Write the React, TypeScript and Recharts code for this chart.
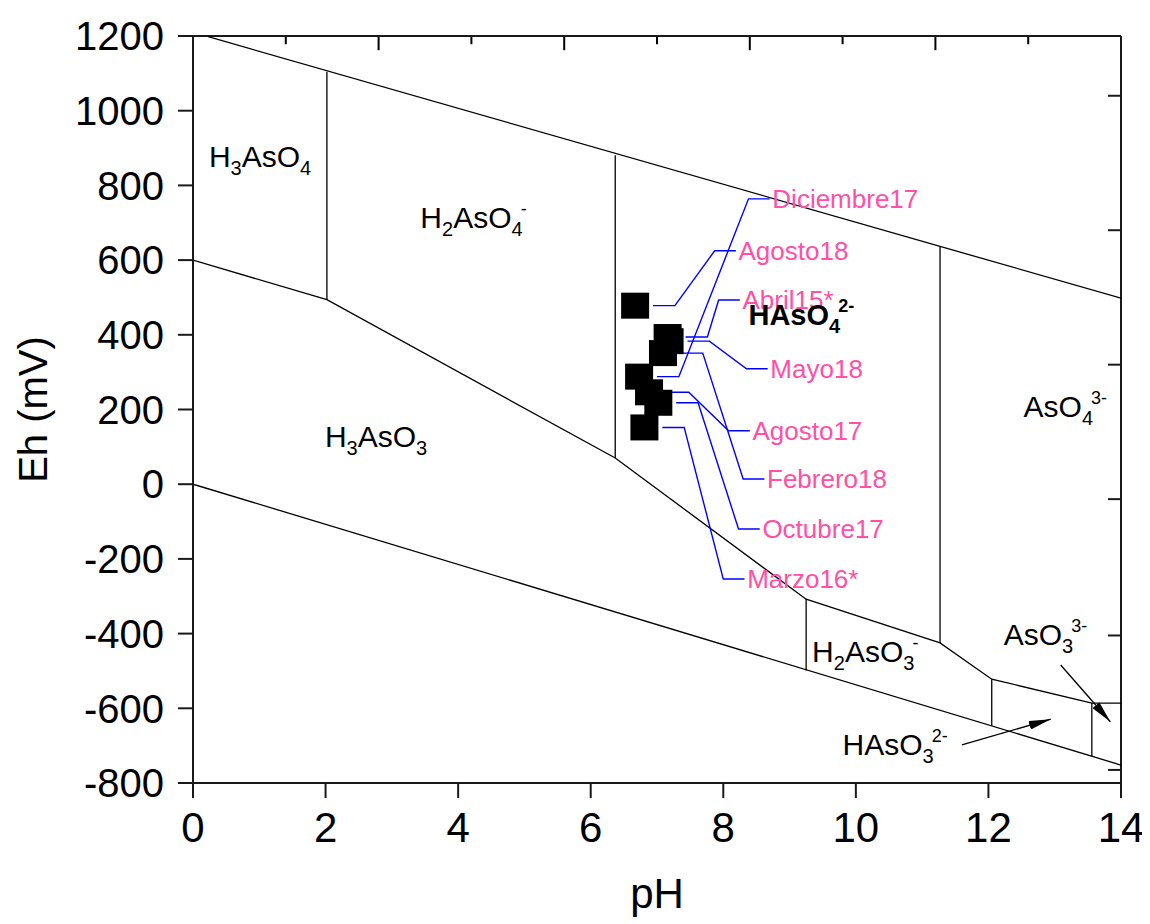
import React from 'react';
import { ComposedChart, XAxis, YAxis, Scatter, Label, ReferenceLine } from 'recharts';

const FONT = '"Liberation Sans", Arial, Helvetica, sans-serif';

// ---- axes ----
const pHTicks = [0, 2, 4, 6, 8, 10, 12, 14];
const ehTicks = [-800, -600, -400, -200, 0, 200, 400, 600, 800, 1000, 1200];
const topMajorTicks = [2.8, 5.6, 8.4, 11.2];
const topMinorTicks = [1.4, 4.2, 7, 9.8, 12.6];
const rightTicks = [1040, 680, 320, -40, -405, -765];

// ---- stability-field boundaries (pH, Eh mV) ----
const upperWaterPH = [0.23, 14];
const upperWaterEh = [1198, 498];
const lowerWaterPH = [0, 14];
const lowerWaterEh = [0, -752];
const redoxPH = [0, 2.02, 6.37, 9.25, 11.27, 12.05, 13.56, 14];
const redoxEh = [600, 494, 70, -308, -425, -522, -586, -586];
const dividerPH = [2.02, 6.37, 11.27, 9.25, 12.05, 13.56];
const dividerTopEh = [1104, 881, 635, -308, -522, -586];
const dividerBottomEh = [494, 70, -425, -499, -647, -728];

// ---- arrows ----
const arrowFromPH = [13.09, 11.6];
const arrowFromEh = [-484, -698];
const arrowToPH = [13.84, 12.94];
const arrowToEh = [-636, -629];

// ---- samples ----
const sampleNames = ['Diciembre17', 'Agosto18', 'Abril15*', 'Mayo18', 'Agosto17', 'Febrero18', 'Octubre17', 'Marzo16*'];
const samplePH = [6.73, 6.67, 7.16, 7.19, 6.88, 7.09, 7.02, 6.81];
const sampleEh = [288, 478, 394, 383, 246, 351, 218, 152];
const labelPH = [8.74, 8.23, 8.29, 8.71, 8.44, 8.66, 8.59, 8.36];
const labelEh = [764, 625, 493, 309, 143, 14, -120, -254];

// ---- species labels ----
const regionFormulas = ['H{3}AsO{4}', 'H{2}AsO{4}[-]', 'H{3}AsO{3}', 'HAsO{4}[2-]', 'AsO{4}[3-]', 'H{2}AsO{3}[-]', 'AsO{3}[3-]', 'HAsO{3}[2-]'];
const regionPH = [0.24, 3.43, 1.99, 8.38, 12.53, 9.34, 12.23, 9.8];
const regionEh = [849, 686, 100, 426, 180, -476, -430, -725];
const regionBold = [false, false, false, true, false, false, false, false];

const pts = (xs: number[], ys: number[]) => xs.map((x, i) => ({ x, y: ys[i] }));

const LINE = { stroke: '#000', strokeWidth: 1.3 };
const AXIS = { stroke: '#1a1a1a', strokeWidth: 2 };
const PINK = '#ff4fa6';
const EH_TOP = 1200;
const MAJOR_LEN = 38; // tick length in mV (~14 px)
const MINOR_LEN = 22; // ~8 px

const NoShape = () => <g />;
const EmptyTick = () => <g />;

const Square = (p: any) => (
  <rect x={p.cx - 14} y={p.cy - 13} width={28} height={26} fill="#000" />
);

const SampleText = (p: any) => (
  <text x={p.cx} y={p.cy + 9} fontFamily={FONT} fontSize={26} fill={PINK}>
    {p.payload.name}
  </text>
);

function parseFormula(f: string) {
  const parts: { t: string; k: string }[] = [];
  const re = /\{([^}]*)\}|\[([^\]]*)\]|([^{[]+)/g;
  let m: RegExpExecArray | null;
  while ((m = re.exec(f))) {
    if (m[1] !== undefined) parts.push({ t: m[1], k: 'sub' });
    else if (m[2] !== undefined) parts.push({ t: m[2], k: 'sup' });
    else parts.push({ t: m[3], k: 'n' });
  }
  return parts;
}

const RegionText = (p: any) => {
  const { cx, cy, payload } = p;
  const parts = parseFormula(payload.formula);
  const base = payload.bold ? 29 : 30;
  let cur = 0;
  return (
    <text x={cx} y={cy} fontFamily={FONT} fontSize={base} fontWeight={payload.bold ? 'bold' : 'normal'} fill="#000">
      {parts.map((q, i) => {
        const target = q.k === 'sub' ? 8 : q.k === 'sup' ? -13 : 0;
        const dy = target - cur;
        cur = target;
        const fs = q.k === 'n' ? base : q.k === 'sub' ? 20 : 18;
        const dx = q.k === 'sup' && i > 0 && parts[i - 1].k === 'sub' ? -2 : 0;
        return (
          <tspan key={i} dy={dy} dx={dx} fontSize={fs}>
            {q.t}
          </tspan>
        );
      })}
    </text>
  );
};

const PHLabel = (props: any) => {
  const vb = props.viewBox || {};
  return (
    <text x={vb.x + vb.width / 2} y={vb.y + 125} textAnchor="middle" fontFamily={FONT} fontSize={42} fill="#000">
      pH
    </text>
  );
};

const EhLabel = (props: any) => {
  const vb = props.viewBox || {};
  const x = vb.x + 39;
  const y = vb.y + vb.height / 2;
  return (
    <text x={x} y={y} textAnchor="middle" transform={`rotate(-90, ${x}, ${y})`} fontFamily={FONT} fontSize={40} fill="#000">
      Eh (mV)
    </text>
  );
};

export default function App() {
  const samples = sampleNames.map((name, i) => ({ x: samplePH[i], y: sampleEh[i], name }));
  const labels = sampleNames.map((name, i) => ({ x: labelPH[i], y: labelEh[i], name }));
  const regions = regionFormulas.map((formula, i) => ({ x: regionPH[i], y: regionEh[i], formula, bold: regionBold[i] }));
  const leaders = sampleNames.map((_, i) => [
    { x: samplePH[i] + 0.27, y: sampleEh[i] },
    { x: samplePH[i] + 0.6, y: sampleEh[i] },
    { x: labelPH[i] - 0.36, y: labelEh[i] },
    { x: labelPH[i] - 0.04, y: labelEh[i] },
  ]);
  const topTicks = [
    ...topMajorTicks.map((t) => ({ x: t, len: MAJOR_LEN })),
    ...topMinorTicks.map((t) => ({ x: t, len: MINOR_LEN })),
  ];
  const drawOrder = [3, 0, 1, 2, 4, 5, 6, 7];

  return (
    <ComposedChart width={1142} height={916} margin={{ top: 28, right: 29, bottom: 0, left: 0 }}>
      <defs>
        <marker id="arrowHead" viewBox="0 0 22 9" refX="22" refY="4.5" markerWidth="22" markerHeight="9" markerUnits="userSpaceOnUse" orient="auto">
          <path d="M0,0 L22,4.5 L0,9 Z" fill="#000" />
        </marker>
      </defs>
      <XAxis
        dataKey="x"
        type="number"
        domain={[0, 14]}
        ticks={pHTicks}
        interval={0}
        allowDataOverflow
        height={141}
        tickSize={15}
        tickMargin={14}
        axisLine={AXIS}
        tickLine={AXIS}
        tick={{ fontSize: 42, fill: '#000', fontFamily: FONT }}
      >
        <Label content={PHLabel} />
      </XAxis>
      <XAxis
        xAxisId="top"
        orientation="top"
        type="number"
        domain={[0, 14]}
        ticks={[0, 14]}
        interval={0}
        allowDataOverflow
        mirror
        height={1}
        tickSize={0}
        tick={EmptyTick}
        axisLine={AXIS}
        tickLine={false}
      />
      <YAxis
        dataKey="y"
        type="number"
        domain={[-800, 1200]}
        ticks={ehTicks}
        interval={0}
        allowDataOverflow
        width={185}
        tickSize={15}
        tickMargin={14}
        axisLine={AXIS}
        tickLine={AXIS}
        tick={{ fontSize: 40, fill: '#000', fontFamily: FONT }}
      >
        <Label content={EhLabel} />
      </YAxis>
      <YAxis
        yAxisId="r"
        orientation="right"
        type="number"
        domain={[-800, 1200]}
        ticks={rightTicks}
        interval={0}
        allowDataOverflow
        mirror
        width={1}
        tickSize={13}
        tick={EmptyTick}
        axisLine={AXIS}
        tickLine={AXIS}
      />

      <Scatter data={pts(upperWaterPH, upperWaterEh)} line={LINE} shape={NoShape} isAnimationActive={false} legendType="none" />
      <Scatter data={pts(lowerWaterPH, lowerWaterEh)} line={LINE} shape={NoShape} isAnimationActive={false} legendType="none" />
      <Scatter data={pts(redoxPH, redoxEh)} line={LINE} shape={NoShape} isAnimationActive={false} legendType="none" />
      {dividerPH.map((ph, i) => (
        <Scatter
          key={`d${i}`}
          data={[{ x: ph, y: dividerTopEh[i] }, { x: ph, y: dividerBottomEh[i] }]}
          line={LINE}
          shape={NoShape}
          isAnimationActive={false}
          legendType="none"
        />
      ))}
      {arrowFromPH.map((ph, i) => (
        <Scatter
          key={`a${i}`}
          data={[{ x: ph, y: arrowFromEh[i] }, { x: arrowToPH[i], y: arrowToEh[i] }]}
          line={{ ...LINE, markerEnd: 'url(#arrowHead)' }}
          shape={NoShape}
          isAnimationActive={false}
          legendType="none"
        />
      ))}
      {leaders.map((d, i) => (
        <Scatter
          key={`l${i}`}
          data={d}
          line={{ stroke: '#0000ff', strokeWidth: 1.4 }}
          shape={NoShape}
          isAnimationActive={false}
          legendType="none"
        />
      ))}
      <Scatter data={drawOrder.map((i) => samples[i])} shape={Square} isAnimationActive={false} legendType="none" />
      <Scatter data={labels} shape={SampleText} isAnimationActive={false} legendType="none" />
      <Scatter data={regions} shape={RegionText} isAnimationActive={false} legendType="none" />
      {topTicks.map((t, i) => (
        <ReferenceLine
          key={`t${i}`}
          segment={[{ x: t.x, y: EH_TOP }, { x: t.x, y: EH_TOP - t.len }]}
          stroke="#000"
          strokeWidth={2}
          ifOverflow="visible"
        />
      ))}
    </ComposedChart>
  );
}
